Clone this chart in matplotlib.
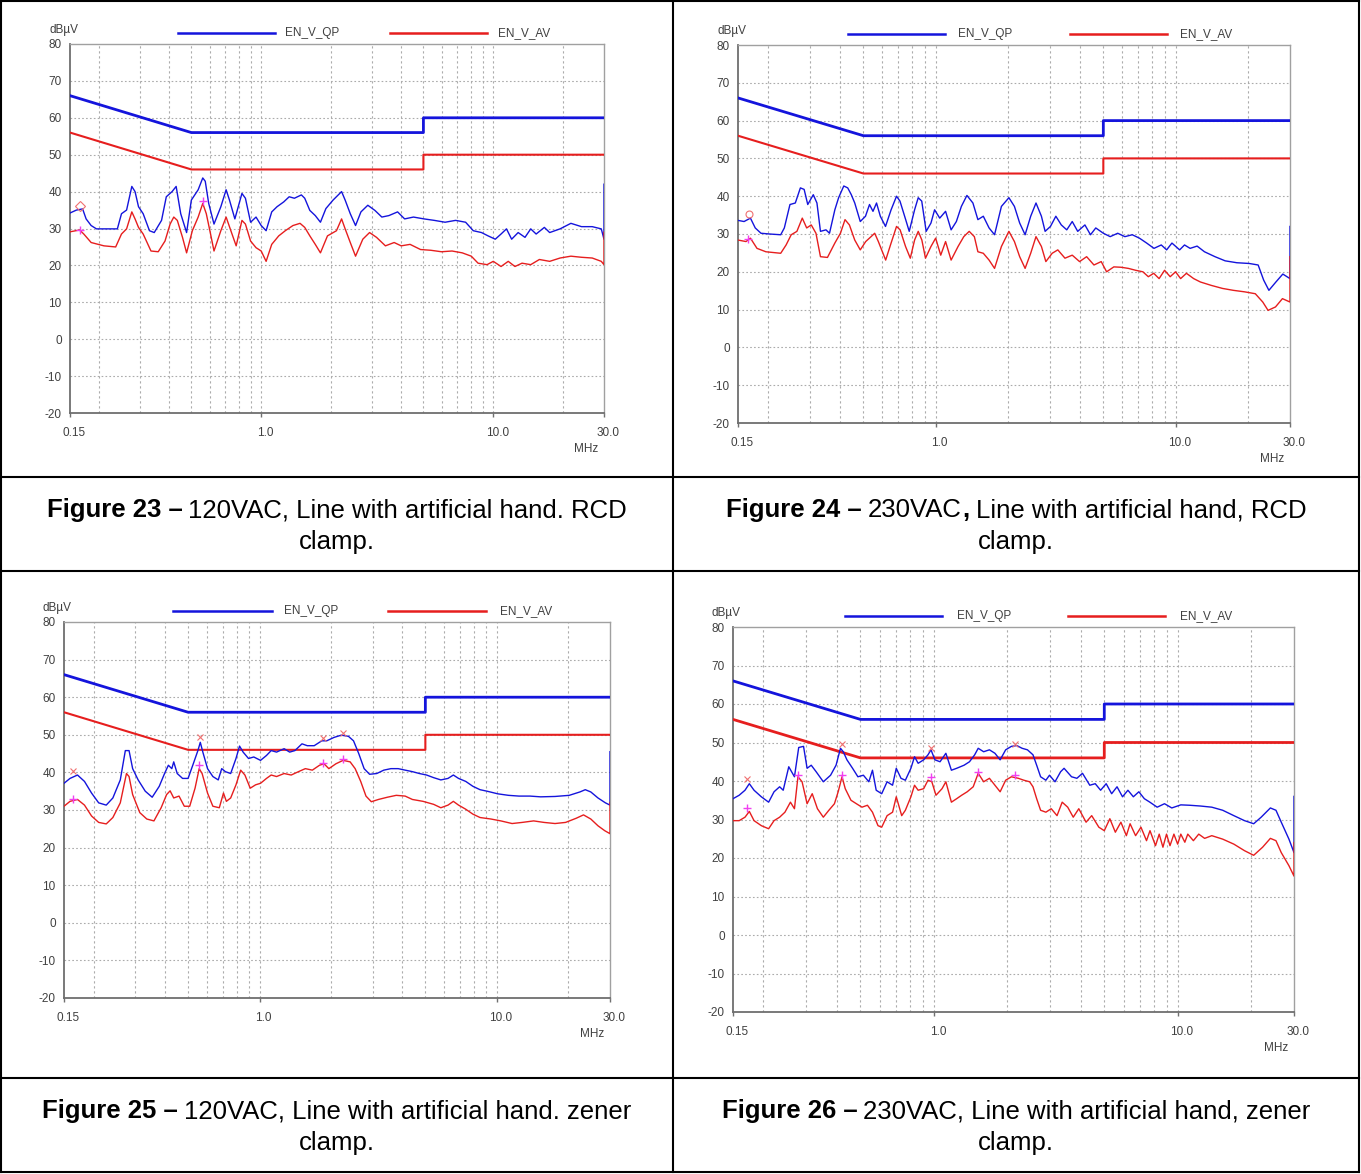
import numpy as np
import matplotlib.pyplot as plt
from matplotlib.lines import Line2D
from matplotlib.ticker import FixedLocator, FixedFormatter, NullLocator
from matplotlib.transforms import ScaledTranslation

W, H = 1361, 1174
plt.rcParams['font.family'] = ['Liberation Sans', 'DejaVu Sans']
plt.rcParams['axes.unicode_minus'] = False

# EN55022 class B limits (MHz, dBuV)
limit_f = [0.15, 0.5, 5.0, 5.0, 30.0]
limit_qp = [66, 56, 56, 60, 60]
limit_av = [56, 46, 46, 50, 50]

x_ticks = [0.15, 1, 10, 30]
x_labels = ['0.15', '1.0', '10.0', '30.0']
y_ticks = [-20, -10, 0, 10, 20, 30, 40, 50, 60, 70, 80]
grid_f = [0.2, 0.3, 0.4, 0.5, 0.6, 0.7, 0.8, 0.9, 1, 2, 3, 4, 5, 6, 7, 8, 9, 10, 20]

# Figure 23 - 120VAC, RCD clamp
f23_qp = [0.15, 0.16, 0.17, 0.176, 0.185, 0.195, 0.215, 0.24, 0.25, 0.263, 0.277, 0.286, 0.296, 0.31, 0.33,
          0.346, 0.372, 0.39, 0.413, 0.43, 0.45, 0.477, 0.5, 0.535, 0.56, 0.574, 0.594, 0.626, 0.67, 0.706,
          0.73, 0.77, 0.826, 0.855, 0.9, 0.95, 1.0, 1.05, 1.11, 1.17, 1.25, 1.32, 1.39, 1.49, 1.54, 1.62,
          1.71, 1.8, 1.9, 2.04, 2.22, 2.3, 2.42, 2.55, 2.69, 2.88, 3.09, 3.31, 3.55, 3.87, 4.15, 4.53, 5.03,
          5.57, 6.2, 6.88, 7.6, 8.2, 8.9, 9.5, 10.2, 10.8, 11.4, 12.0, 12.8, 13.7, 14.5, 15.3, 16.6, 17.5,
          19.4, 21.6, 24.0, 26.7, 29.2, 30.0, 30.0]
v23_qp = [34.2, 35.0, 35.3, 32.6, 30.8, 29.9, 29.9, 29.9, 34.0, 35.0, 41.4, 40.0, 35.9, 34.0, 29.4,
          28.9, 32.2, 38.6, 40.0, 41.4, 34.0, 28.9, 37.7, 40.5, 43.7, 42.8, 36.8, 31.2, 35.9, 40.5,
          37.7, 32.6, 39.5, 38.2, 31.7, 33.1, 30.8, 29.4, 34.5, 35.9, 37.2, 38.6, 38.2, 39.1, 38.2, 34.9,
          33.5, 31.7, 35.4, 37.7, 40.0, 37.7, 34.0, 30.8, 34.5, 36.3, 34.9, 33.1, 33.5, 34.5, 32.6, 33.1, 32.6,
          32.2, 31.7, 32.2, 31.7, 29.4, 28.9, 28.0, 27.1, 28.5, 29.9, 27.1, 28.9, 27.6, 29.9, 28.5, 30.3, 28.9,
          29.9, 31.4, 30.5, 30.5, 29.9, 27.1, 42.0]
f23_av = [0.15, 0.165, 0.172, 0.185, 0.21, 0.236, 0.25, 0.263, 0.277, 0.286, 0.296, 0.31, 0.335, 0.36, 0.385,
          0.405, 0.42, 0.435, 0.458, 0.477, 0.505, 0.535, 0.56, 0.58, 0.605, 0.626, 0.67, 0.706, 0.74, 0.78,
          0.826, 0.855, 0.9, 0.95, 1.0, 1.05, 1.11, 1.19, 1.27, 1.37, 1.47, 1.54, 1.62, 1.71, 1.8, 1.93,
          2.11, 2.22, 2.3, 2.42, 2.55, 2.74, 2.93, 3.14, 3.43, 3.74, 4.01, 4.38, 4.86, 5.38, 5.98, 6.64,
          7.35, 8.04, 8.6, 9.4, 10.0, 10.8, 11.6, 12.4, 13.3, 14.5, 15.8, 17.5, 19.4, 21.6, 24.0, 26.7,
          29.2, 30.0, 30.0]
v23_av = [29.1, 29.6, 28.5, 26.2, 25.3, 25.0, 28.5, 29.9, 34.5, 32.6, 30.3, 28.5, 23.9, 23.7, 26.6,
          31.2, 33.1, 32.2, 27.6, 23.4, 29.4, 33.1, 36.8, 34.0, 28.5, 23.9, 29.4, 33.1, 29.4, 25.3,
          32.2, 31.2, 26.6, 24.8, 23.9, 21.1, 25.7, 28.0, 29.4, 30.8, 31.4, 30.3, 28.0, 25.7, 23.4, 28.0,
          29.4, 32.6, 29.9, 26.2, 22.5, 27.1, 28.9, 27.6, 25.3, 26.2, 25.3, 25.7, 24.3, 24.1, 23.7, 23.9,
          23.4, 22.5, 20.6, 20.2, 21.1, 19.7, 21.1, 19.7, 20.6, 20.2, 21.6, 21.1, 22.0, 22.5, 22.2, 22.0,
          21.1, 20.2, 29.0]

# Figure 24 - 230VAC, RCD clamp
f24_qp = [0.15, 0.159, 0.169, 0.177, 0.187, 0.203, 0.226, 0.234, 0.247, 0.26, 0.273, 0.283, 0.293, 0.309,
          0.32, 0.331, 0.349, 0.361, 0.38, 0.394, 0.414, 0.43, 0.445, 0.46, 0.485, 0.51, 0.53, 0.548, 0.567,
          0.588, 0.618, 0.652, 0.687, 0.71, 0.75, 0.776, 0.817, 0.846, 0.875, 0.913, 0.956, 0.99, 1.04, 1.1,
          1.16, 1.22, 1.28, 1.35, 1.43, 1.5, 1.58, 1.67, 1.76, 1.88, 2.02, 2.13, 2.24, 2.36, 2.49, 2.62,
          2.76, 2.86, 3.01, 3.17, 3.34, 3.52, 3.71, 3.91, 4.19, 4.42, 4.65, 5.0, 5.34, 5.74, 6.15, 6.6,
          7.07, 7.58, 8.13, 8.72, 9.18, 9.66, 10.4, 10.9, 11.5, 12.3, 13.2, 14.6, 16.1, 18.0, 20.3, 22.1,
          23.3, 24.5, 26.2, 28.0, 30.0, 30.0]
v24_qp = [33.6, 33.3, 34.2, 31.6, 30.2, 30.0, 29.8, 31.6, 37.8, 38.2, 42.2, 41.8, 37.8, 40.4,
          38.2, 30.7, 31.1, 30.2, 36.4, 39.6, 42.7, 42.2, 40.4, 38.2, 33.3, 34.7, 37.8, 36.0, 38.2,
          34.7, 32.0, 36.4, 40.0, 38.7, 33.8, 30.7, 36.4, 39.6, 38.7, 30.7, 32.9, 36.4, 34.2, 36.0,
          31.1, 33.3, 37.3, 40.2, 38.2, 33.8, 34.7, 31.6, 29.8, 37.3, 39.6, 37.3, 32.9, 29.8, 34.7, 38.2,
          34.7, 30.7, 32.0, 34.7, 32.4, 31.1, 33.3, 30.7, 32.4, 29.8, 31.6, 30.2, 29.3, 30.2, 29.3, 29.8,
          28.9, 27.6, 26.2, 27.1, 25.8, 27.6, 25.8, 27.1, 26.2, 26.8, 25.3, 24.0, 22.9, 22.4, 22.2, 21.8,
          17.8, 15.1, 17.3, 19.4, 18.2, 32.0]
f24_av = [0.15, 0.162, 0.169, 0.18, 0.196, 0.226, 0.238, 0.25, 0.264, 0.278, 0.29, 0.303, 0.317, 0.331,
          0.354, 0.38, 0.401, 0.419, 0.437, 0.46, 0.485, 0.511, 0.538, 0.557, 0.577, 0.619, 0.652, 0.687,
          0.711, 0.749, 0.784, 0.817, 0.846, 0.876, 0.907, 0.956, 1.0, 1.05, 1.1, 1.16, 1.24, 1.31, 1.38,
          1.45, 1.5, 1.58, 1.67, 1.76, 1.88, 2.02, 2.13, 2.24, 2.36, 2.49, 2.62, 2.76, 2.88, 3.06, 3.23,
          3.46, 3.71, 3.98, 4.26, 4.57, 4.9, 5.16, 5.53, 5.93, 6.36, 6.82, 7.31, 7.7, 8.11, 8.54, 9.0,
          9.5, 10.0, 10.5, 11.1, 11.9, 12.7, 14.1, 15.7, 17.4, 19.4, 21.5, 23.1, 24.3, 26.1, 27.9, 30.0, 30.0]
v24_av = [28.4, 28.0, 28.9, 26.2, 25.3, 24.9, 27.1, 29.8, 30.7, 34.2, 31.6, 32.4, 30.2, 24.0,
          23.8, 27.6, 30.2, 33.8, 32.4, 28.4, 25.8, 28.0, 29.3, 30.2, 28.0, 23.1, 27.6, 32.0,
          31.1, 26.7, 23.6, 28.4, 30.7, 28.4, 23.6, 26.7, 28.9, 24.4, 28.0, 23.1, 26.7, 29.3, 30.7,
          29.3, 25.3, 24.9, 23.1, 20.9, 26.7, 30.7, 28.0, 24.0, 20.9, 24.9, 29.3, 26.7, 22.7, 24.9, 25.8,
          23.6, 24.4, 22.7, 24.0, 21.8, 22.7, 20.0, 21.3, 21.2, 20.9, 20.4, 20.0, 18.7, 19.6, 18.2, 20.4,
          18.7, 20.0, 18.2, 19.6, 18.2, 17.3, 16.4, 15.6, 15.1, 14.7, 14.2, 12.0, 9.8, 10.7, 12.9, 12.0, 24.0]

# Figure 25 - 120VAC, zener clamp
f25_qp = [0.15, 0.159, 0.171, 0.183, 0.196, 0.21, 0.226, 0.241, 0.259, 0.272, 0.282, 0.292, 0.308, 0.33,
          0.353, 0.378, 0.398, 0.413, 0.427, 0.435, 0.45, 0.474, 0.5, 0.526, 0.55, 0.563, 0.577, 0.604,
          0.636, 0.67, 0.693, 0.718, 0.756, 0.796, 0.824, 0.853, 0.899, 0.946, 1.01, 1.07, 1.12, 1.18,
          1.27, 1.34, 1.41, 1.51, 1.59, 1.7, 1.83, 1.92, 2.06, 2.21, 2.37, 2.49, 2.62, 2.76, 2.91, 3.12,
          3.34, 3.58, 3.84, 4.11, 4.41, 4.72, 5.06, 5.42, 5.81, 6.23, 6.56, 6.9, 7.4, 7.93, 8.5, 9.1,
          10.1, 11.2, 12.4, 13.8, 15.3, 17.6, 20.2, 22.4, 23.6, 24.9, 26.7, 28.7, 30.0, 30.0]
v25_qp = [37.1, 38.4, 39.3, 37.6, 34.5, 31.9, 31.3, 33.2, 38.0, 45.8, 45.8, 41.0, 38.0, 35.0,
          33.4, 36.3, 39.7, 41.9, 41.0, 42.8, 39.7, 38.4, 38.4, 42.3, 45.8, 48.0, 45.4, 41.0,
          38.9, 38.0, 41.0, 40.2, 39.7, 43.7, 47.0, 45.4, 43.7, 44.1, 43.2, 44.5, 45.8, 45.4,
          46.3, 45.4, 45.8, 47.6, 47.1, 47.1, 48.4, 48.4, 49.3, 49.9, 49.6, 48.4, 45.0, 41.0, 39.5, 39.7,
          40.6, 41.0, 41.0, 40.6, 40.2, 39.7, 39.3, 38.6, 38.0, 38.4, 39.3, 38.4, 37.6, 36.3, 35.4, 35.0,
          34.3, 33.9, 33.7, 33.7, 33.5, 33.6, 33.9, 34.8, 35.4, 34.8, 33.2, 31.9, 31.3, 45.5]
f25_av = [0.15, 0.159, 0.171, 0.183, 0.196, 0.21, 0.226, 0.241, 0.259, 0.275, 0.282, 0.292, 0.313, 0.335,
          0.359, 0.385, 0.406, 0.42, 0.435, 0.458, 0.482, 0.508, 0.535, 0.557, 0.573, 0.604, 0.636, 0.677,
          0.705, 0.725, 0.756, 0.796, 0.833, 0.868, 0.914, 0.963, 1.01, 1.07, 1.12, 1.18, 1.27, 1.36, 1.46,
          1.56, 1.67, 1.79, 1.87, 1.96, 2.1, 2.25, 2.41, 2.53, 2.67, 2.81, 2.96, 3.17, 3.46, 3.77, 4.11,
          4.41, 4.89, 5.42, 5.81, 6.23, 6.56, 6.9, 7.4, 7.93, 8.5, 9.45, 10.4, 11.6, 12.8, 14.3, 15.8,
          17.6, 19.5, 21.6, 23.2, 24.9, 26.7, 28.5, 30.0, 30.0]
v25_av = [31.0, 32.3, 32.8, 31.3, 28.4, 26.7, 26.3, 28.0, 31.9, 39.7, 38.9, 34.1, 29.3, 27.6,
          27.1, 30.6, 34.1, 35.1, 33.2, 33.7, 31.0, 31.0, 35.8, 41.0, 39.7, 34.5, 31.0, 30.6,
          34.5, 32.3, 33.2, 36.7, 40.6, 39.3, 35.8, 36.7, 37.1, 38.4, 39.3, 38.9, 39.7, 39.3, 40.2,
          41.0, 40.6, 41.9, 42.3, 41.0, 42.3, 43.2, 42.8, 41.0, 37.6, 33.7, 32.2, 32.8, 33.4, 33.9, 33.7,
          32.8, 32.3, 31.5, 30.6, 31.3, 32.3, 31.3, 30.2, 28.9, 28.0, 27.6, 27.1, 26.4, 26.7, 27.1, 26.7,
          26.4, 26.7, 27.8, 28.7, 27.6, 25.8, 24.5, 23.7, 32.0]

# Figure 26 - 230VAC, zener clamp
f26_qp = [0.15, 0.159, 0.168, 0.175, 0.183, 0.196, 0.21, 0.221, 0.233, 0.241, 0.254, 0.268, 0.279, 0.292,
          0.302, 0.314, 0.329, 0.352, 0.377, 0.397, 0.414, 0.425, 0.44, 0.464, 0.488, 0.514, 0.541, 0.56,
          0.58, 0.611, 0.643, 0.677, 0.701, 0.733, 0.764, 0.805, 0.833, 0.862, 0.908, 0.946, 0.973, 1.01,
          1.06, 1.12, 1.18, 1.24, 1.33, 1.4, 1.47, 1.52, 1.6, 1.69, 1.78, 1.87, 1.97, 2.08, 2.19, 2.3,
          2.42, 2.55, 2.64, 2.74, 2.88, 2.98, 3.14, 3.31, 3.42, 3.67, 3.86, 4.07, 4.36, 4.59, 4.83, 5.09,
          5.36, 5.64, 5.94, 6.25, 6.58, 6.93, 7.3, 7.69, 8.24, 8.83, 9.46, 10.3, 11.2, 12.4, 13.8, 15.3,
          17.0, 18.8, 20.5, 22.0, 24.0, 25.3, 26.6, 28.6, 30.0, 30.0]
v26_qp = [35.4, 36.3, 37.6, 39.3, 37.6, 35.9, 34.5, 37.2, 38.5, 37.6, 43.7, 41.1, 48.7, 49.0,
          43.3, 44.1, 42.4, 39.8, 41.5, 44.1, 48.5, 47.6, 45.5, 43.3, 41.1, 41.5, 39.8, 42.8,
          37.6, 36.7, 39.8, 38.9, 43.3, 40.7, 40.2, 43.3, 46.3, 44.6, 45.5, 46.8, 48.1, 45.5,
          45.0, 47.2, 42.8, 43.3, 44.1, 45.0, 46.8, 48.5, 47.6, 48.1, 47.2, 45.5, 48.1, 49.0, 49.2, 48.5,
          48.1, 46.8, 44.1, 41.1, 40.2, 41.5, 39.8, 42.4, 43.3, 41.1, 40.7, 42.0, 38.9, 39.3, 37.6, 39.3,
          36.7, 38.5, 35.9, 37.6, 35.9, 37.2, 35.4, 34.5, 33.2, 34.1, 33.0, 33.8, 33.7, 33.5, 33.2, 32.4,
          31.0, 29.7, 28.9, 30.6, 33.0, 32.4, 29.3, 24.9, 21.4, 36.0]
f26_av = [0.15, 0.159, 0.168, 0.175, 0.183, 0.196, 0.21, 0.221, 0.233, 0.245, 0.258, 0.268, 0.277, 0.288,
          0.302, 0.317, 0.333, 0.352, 0.371, 0.391, 0.405, 0.42, 0.433, 0.457, 0.481, 0.507, 0.534, 0.56,
          0.59, 0.611, 0.643, 0.677, 0.701, 0.738, 0.764, 0.805, 0.833, 0.862, 0.908, 0.946, 0.981, 1.02,
          1.08, 1.12, 1.18, 1.24, 1.3, 1.37, 1.45, 1.52, 1.6, 1.69, 1.78, 1.87, 1.97, 2.08, 2.22, 2.34,
          2.47, 2.55, 2.64, 2.74, 2.88, 3.03, 3.2, 3.36, 3.54, 3.73, 3.93, 4.21, 4.44, 4.75, 5.0, 5.27,
          5.55, 5.85, 6.16, 6.38, 6.72, 7.07, 7.45, 7.7, 8.11, 8.4, 8.7, 9.0, 9.3, 9.65, 10.0, 10.3,
          10.7, 11.0, 11.6, 12.2, 12.9, 13.8, 15.3, 17.0, 18.8, 20.5, 22.3, 24.0, 25.3, 26.6, 28.6, 30.0, 30.0]
v26_av = [29.7, 29.7, 30.6, 32.1, 29.7, 28.4, 27.6, 29.7, 30.6, 31.9, 34.5, 32.8, 41.1, 39.8,
          34.1, 36.7, 32.8, 30.6, 32.4, 34.1, 37.2, 41.1, 38.0, 35.0, 34.1, 33.2, 33.7, 31.9,
          28.4, 28.0, 31.0, 31.9, 35.9, 31.0, 32.4, 35.9, 38.9, 37.6, 38.0, 40.2, 39.8, 36.3,
          38.0, 39.8, 34.5, 35.4, 36.3, 37.2, 38.5, 42.0, 39.8, 40.7, 38.9, 37.2, 40.2, 41.1, 40.7, 40.2,
          39.8, 38.5, 35.4, 32.4, 31.9, 32.8, 31.0, 34.5, 33.2, 30.6, 32.8, 29.3, 31.0, 28.0, 27.1, 30.2,
          26.7, 29.3, 25.8, 28.9, 25.8, 28.0, 24.5, 27.1, 23.2, 26.2, 22.8, 26.2, 23.2, 26.2, 23.6, 26.2,
          24.1, 26.2, 24.5, 26.2, 25.1, 25.8, 24.9, 23.6, 21.9, 20.7, 22.8, 25.1, 24.5, 21.4, 18.0, 15.3, 24.0]

# peak markers: (freq, level) for QP (x / diamond) and AV (+)
m23_qp = [(0.165, 36.2)]
m23_av = [(0.165, 29.6), (0.563, 37.5)]
m24_qp = [(0.167, 35.2)]
m24_av = [(0.165, 28.6)]
m25_qp = [(0.163, 40.4), (0.56, 49.5), (1.85, 49.2), (2.25, 50.4)]
m25_av = [(0.163, 33.0), (0.557, 42.0), (1.85, 42.6), (2.25, 43.6)]
m26_qp = [(0.172, 40.5), (0.42, 49.6), (0.97, 48.6), (2.15, 49.6)]
m26_av = [(0.172, 33.0), (0.277, 41.6), (0.42, 41.6), (0.97, 41.0), (1.52, 42.4), (2.15, 41.6)]

BLUE = '#1414dc'
RED = '#e61e1e'

fig = plt.figure(figsize=(W / 100, H / 100), dpi=100)


def fx(x):
    return x / W


def fy(y):
    return 1 - y / H


def chart(l, t, r, b, fq, vq, fa, va, mq, ma, qp_marker, red_lw, leg):
    ax = fig.add_axes([fx(l), fy(b), (r - l) / W, (b - t) / H])
    ax.set_xscale('log')
    ax.set_xlim(0.15, 30)
    ax.set_ylim(-20, 80)
    for g in grid_f:
        ax.axvline(g, color='#ababab', lw=0.8, ls=(0, (2, 2.5)), zorder=0)
    for yv in y_ticks[1:-1]:
        ax.axhline(yv, color='#ababab', lw=0.8, ls=(0, (1.5, 2)), zorder=0)
    ax.plot(limit_f, limit_qp, color=BLUE, lw=2.0, zorder=3)
    ax.plot(limit_f, limit_av, color=RED, lw=red_lw, zorder=3)
    ax.plot(fq, vq, color=BLUE, lw=1.0, zorder=4)
    ax.plot(fa, va, color=RED, lw=1.0, zorder=4)
    for f, v in mq:
        ax.plot(f, v, marker=qp_marker, ms=5, mfc='none', mec='#f07070', mew=0.8, zorder=5)
    for f, v in ma:
        ax.plot(f, v, marker='+', ms=6, color='#f040f0', mew=1.0, zorder=5)

    ax.xaxis.set_major_locator(FixedLocator(x_ticks))
    ax.xaxis.set_major_formatter(FixedFormatter(x_labels))
    ax.xaxis.set_minor_locator(NullLocator())
    ax.set_yticks(y_ticks)
    ax.tick_params(axis='x', length=3, width=1, color='#707070', pad=7,
                   labelsize=8.5, labelcolor='#404040')
    ax.tick_params(axis='y', length=0, pad=6, labelsize=8.5, labelcolor='#404040')
    for lab in ax.get_xticklabels():
        lab.set_transform(lab.get_transform() + ScaledTranslation(0.04, 0, fig.dpi_scale_trans))
    for side in ['left', 'bottom']:
        ax.spines[side].set_color('#6e6e6e')
        ax.spines[side].set_linewidth(1.3)
    for side in ['top', 'right']:
        ax.spines[side].set_color('#a0a0a0')
        ax.spines[side].set_linewidth(1.0)

    fig.text(fx(l - 21), fy(t - 14), 'dBµV', fontsize=8.5, color='#404040', ha='left', va='center')
    fig.text(fx(r - 18), fy(b + 36), 'MHz', fontsize=8.5, color='#404040', ha='center', va='center')
    ly = fy(t - 11)
    bx0, bx1, btx, rx0, rx1, rtx = leg
    fig.add_artist(Line2D([fx(l + bx0), fx(l + bx1)], [ly, ly], color=BLUE, lw=1.8))
    fig.add_artist(Line2D([fx(l + rx0), fx(l + rx1)], [ly, ly], color=RED, lw=1.8))
    fig.text(fx(l + btx), ly, 'EN_V_QP', fontsize=8.5, color='#404040', ha='left', va='center')
    fig.text(fx(l + rtx), ly, 'EN_V_AV', fontsize=8.5, color='#404040', ha='left', va='center')
    return ax


chart(70, 44, 604, 413, f23_qp, v23_qp, f23_av, v23_av, m23_qp, m23_av, 'D', 1.5,
      (108, 205, 215, 320, 417, 428))
chart(738, 45, 1290, 423, f24_qp, v24_qp, f24_av, v24_av, m24_qp, m24_av, 'o', 1.5,
      (110, 207, 220, 332, 429, 442))
chart(64, 622, 610, 998, f25_qp, v25_qp, f25_av, v25_av, m25_qp, m25_av, 'x', 1.5,
      (109, 208, 220, 324, 422, 436))
chart(733, 627, 1294, 1012, f26_qp, v26_qp, f26_av, v26_av, m26_qp, m26_av, 'x', 2.0,
      (112, 209, 224, 335, 432, 447))

# table borders
for x in [1, 673, 1359]:
    fig.add_artist(Line2D([fx(x), fx(x)], [fy(1), fy(1172)], color='black', lw=1.5))
for y in [1, 477, 571, 1078, 1172]:
    fig.add_artist(Line2D([fx(1), fx(1359)], [fy(y), fy(y)], color='black', lw=1.5))

renderer = fig.canvas.get_renderer()


def caption(cx, y, parts, size=18.5):
    # y is the text baseline in pixels
    texts, widths = [], []
    for s, bold, gap in parts:
        t = fig.text(0, fy(y), s, fontsize=size, fontweight='bold' if bold else 'normal',
                     ha='left', va='baseline', color='black')
        texts.append((t, gap))
        widths.append(t.get_window_extent(renderer).width + gap)
    x = cx - sum(widths) / 2
    for (t, gap), w in zip(texts, widths):
        t.set_x(fx(x + gap))
        x += w


GAP = 6
caption(337, 517, [('Figure 23 –', True, 0), ('120VAC, Line with artificial hand. RCD', False, GAP)])
caption(337, 549, [('clamp.', False, 0)])
caption(1016, 517, [('Figure 24 –', True, 0), ('230VAC', False, GAP), (',', True, 1),
                    ('Line with artificial hand, RCD', False, GAP)])
caption(1016, 549, [('clamp.', False, 0)])
caption(337, 1118, [('Figure 25 –', True, 0), ('120VAC, Line with artificial hand. zener', False, GAP)])
caption(337, 1150, [('clamp.', False, 0)])
caption(1016, 1118, [('Figure 26 –', True, 0), ('230VAC, Line with artificial hand, zener', False, GAP)])
caption(1016, 1150, [('clamp.', False, 0)])

fig.savefig('out.png', dpi=100)
